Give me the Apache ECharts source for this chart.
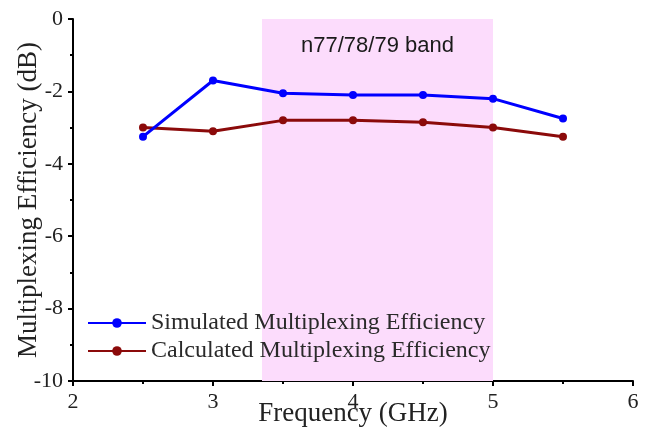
<!DOCTYPE html>
<html><head><meta charset="utf-8">
<script src="https://cdn.jsdelivr.net/npm/echarts@6/dist/echarts.min.js"></script>
<style>html,body{margin:0;padding:0;background:#fff}#c{width:648px;height:431px}</style>
</head><body><div id="c"></div>
<script>
const freq = [2.5, 3, 3.5, 4, 4.5, 5, 5.5];
const simulated = [-3.25, -1.7, -2.05, -2.1, -2.1, -2.2, -2.75];
const calculated = [-3.0, -3.1, -2.8, -2.8, -2.85, -3.0, -3.25];
const bandRange = [3.35, 5.0];
const bandLabel = 'n77/78/79 band';
const seriesNames = ['Simulated Multiplexing Efficiency', 'Calculated Multiplexing Efficiency'];

const serif = 'Liberation Serif';
const chart = echarts.init(document.getElementById('c'));
chart.setOption({
  animation: false,
  grid: {left: 73, right: 15, top: 19, bottom: 50, containLabel: false, outerBoundsMode: 'none'},
  xAxis: {
    type: 'value', min: 2, max: 6, interval: 1,
    name: 'Frequency (GHz)', nameLocation: 'middle', nameGap: 19, nameMoveOverlap: false,
    nameTextStyle: {fontFamily: serif, fontSize: 27, color: '#222'},
    axisLine: {onZero: false, lineStyle: {color: '#000', width: 2}},
    axisTick: {show: true, length: 5, lineStyle: {color: '#000', width: 2}},
    minorTick: {show: true, splitNumber: 2, length: 3, lineStyle: {color: '#000', width: 2}},
    axisLabel: {fontFamily: serif, fontSize: 22, color: '#222', margin: 10},
    splitLine: {show: false}
  },
  yAxis: {
    type: 'value', min: -10, max: 0, interval: 2,
    name: 'Multiplexing Efficiency (dB)', nameLocation: 'middle', nameGap: 31, nameMoveOverlap: false,
    nameTextStyle: {fontFamily: serif, fontSize: 27, color: '#222'},
    axisLine: {show: true, onZero: false, lineStyle: {color: '#000', width: 2}},
    axisTick: {show: true, length: 5, lineStyle: {color: '#000', width: 2}},
    minorTick: {show: true, splitNumber: 2, length: 3, lineStyle: {color: '#000', width: 2}},
    axisLabel: {fontFamily: serif, fontSize: 22, color: '#222', margin: 10},
    splitLine: {show: false}
  },
  legend: {
    orient: 'vertical', left: 82, top: 306, itemWidth: 58, itemHeight: 12, itemGap: 4,
    textStyle: {fontFamily: serif, fontSize: 24, color: '#2a2a2a'},
    data: seriesNames
  },
  series: [
    {
      name: seriesNames[0], type: 'line', z: 3,
      data: freq.map((x, i) => [x, simulated[i]]),
      symbol: 'circle', symbolSize: 8,
      lineStyle: {color: '#0000ff', width: 3}, itemStyle: {color: '#0000ff'},
      markArea: {
        silent: true,
        itemStyle: {color: '#fcdcfc'},
        label: {show: true, position: 'insideTop', distance: 16, fontFamily: 'Liberation Sans', fontSize: 22, color: '#1a1a1a', formatter: bandLabel},
        data: [[{xAxis: bandRange[0]}, {xAxis: bandRange[1]}]]
      }
    },
    {
      name: seriesNames[1], type: 'line', z: 2,
      data: freq.map((x, i) => [x, calculated[i]]),
      symbol: 'circle', symbolSize: 8,
      lineStyle: {color: '#8b0a0a', width: 3}, itemStyle: {color: '#8b0a0a'}
    }
  ]
});
</script></body></html>
